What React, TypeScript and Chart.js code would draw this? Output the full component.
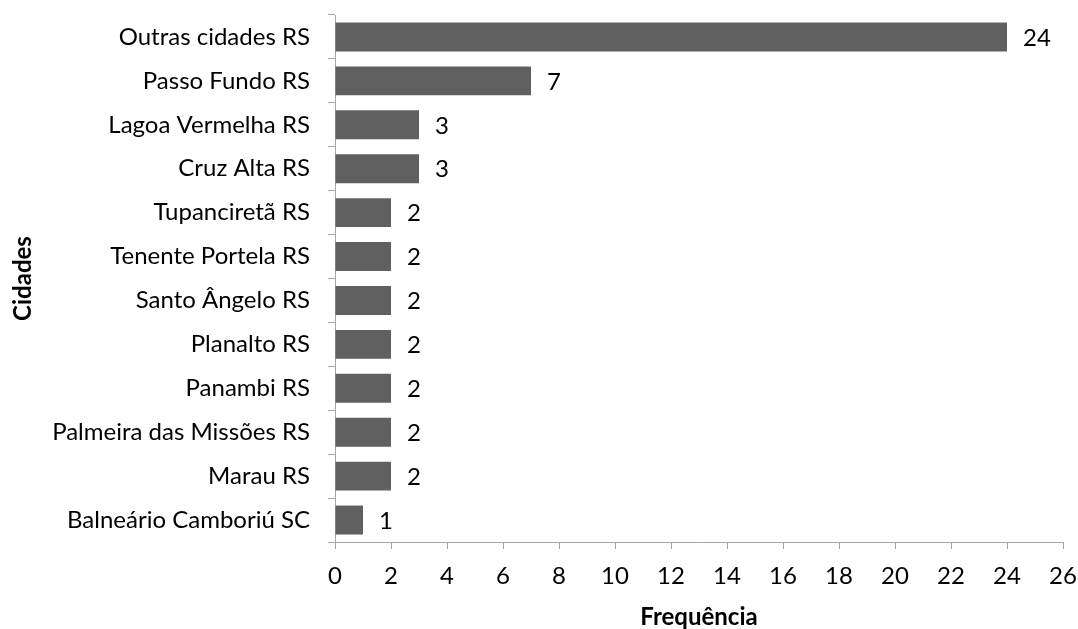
import React, { useEffect, useRef } from "react";
import { Chart, registerables } from "chart.js";

Chart.register(...registerables);

const categories = [
  "Outras cidades RS",
  "Passo Fundo RS",
  "Lagoa Vermelha RS",
  "Cruz Alta RS",
  "Tupanciretã RS",
  "Tenente Portela RS",
  "Santo Ângelo RS",
  "Planalto RS",
  "Panambi RS",
  "Palmeira das Missões RS",
  "Marau RS",
  "Balneário Camboriú SC",
];
const frequencies = [24, 7, 3, 3, 2, 2, 2, 2, 2, 2, 2, 1];
const xTitle = "Frequência";
const yTitle = "Cidades";

const FONT = "Lato, 'Open Sans', sans-serif";
const AXIS_GRAY = "#A6A6A6";

const valueLabels = {
  id: "valueLabels",
  afterDatasetsDraw(chart: any) {
    const ctx = chart.ctx;
    const meta = chart.getDatasetMeta(0);
    ctx.save();
    ctx.font = `24px ${FONT}`;
    ctx.fillStyle = "#000";
    ctx.textAlign = "left";
    ctx.textBaseline = "middle";
    meta.data.forEach((bar: any, i: number) => {
      ctx.fillText(String(frequencies[i]), bar.x + 16, bar.y + 1);
    });
    ctx.restore();
  },
};

const zeroPad = (scale: any) => {
  scale.paddingTop = 0;
  scale.paddingBottom = 0;
  scale.paddingLeft = 0;
  scale.paddingRight = 0;
};

export default function App() {
  const ref = useRef<HTMLCanvasElement | null>(null);
  useEffect(() => {
    document.body.style.margin = "0";
    const chart = new Chart(ref.current as HTMLCanvasElement, {
      type: "bar",
      data: {
        labels: categories,
        datasets: [
          {
            data: frequencies,
            backgroundColor: "#606060",
            borderWidth: 0,
            categoryPercentage: 0.66,
            barPercentage: 1,
          },
        ],
      },
      options: {
        indexAxis: "y",
        animation: false,
        responsive: false,
        maintainAspectRatio: false,
        layout: { padding: { top: 15, right: 15, bottom: 0, left: 0 } },
        plugins: {
          legend: { display: false },
          tooltip: { enabled: false },
        },
        scales: {
          x: {
            min: 0,
            max: 26,
            ticks: {
              stepSize: 2,
              color: "#000",
              font: { family: FONT, size: 24 },
              padding: 13,
            },
            grid: {
              drawOnChartArea: false,
              drawTicks: true,
              tickLength: 7,
              color: AXIS_GRAY,
            },
            border: { color: AXIS_GRAY, width: 1 },
            title: {
              display: true,
              text: xTitle,
              color: "#000",
              font: { family: FONT, size: 24, weight: "bold", lineHeight: 1.0 },
              padding: { top: 0, bottom: 0 },
            },
            afterFit(scale: any) {
              scale.height = 87;
              zeroPad(scale);
            },
          },
          y: {
            ticks: {
              color: "#000",
              font: { family: FONT, size: 24 },
              padding: 18,
            },
            grid: {
              offset: true,
              drawOnChartArea: false,
              drawTicks: true,
              tickLength: 7,
              color: AXIS_GRAY,
            },
            border: { color: AXIS_GRAY, width: 1 },
            title: {
              display: true,
              text: yTitle,
              color: "#000",
              font: { family: FONT, size: 24, weight: "bold" },
              padding: { top: 9, bottom: 9 },
            },
            afterFit(scale: any) {
              scale.width = 335;
              zeroPad(scale);
            },
          },
        },
      },
      plugins: [valueLabels],
    } as any);
    return () => chart.destroy();
  }, []);
  return <canvas ref={ref} width={1078} height={629} style={{ display: "block" }} />;
}
